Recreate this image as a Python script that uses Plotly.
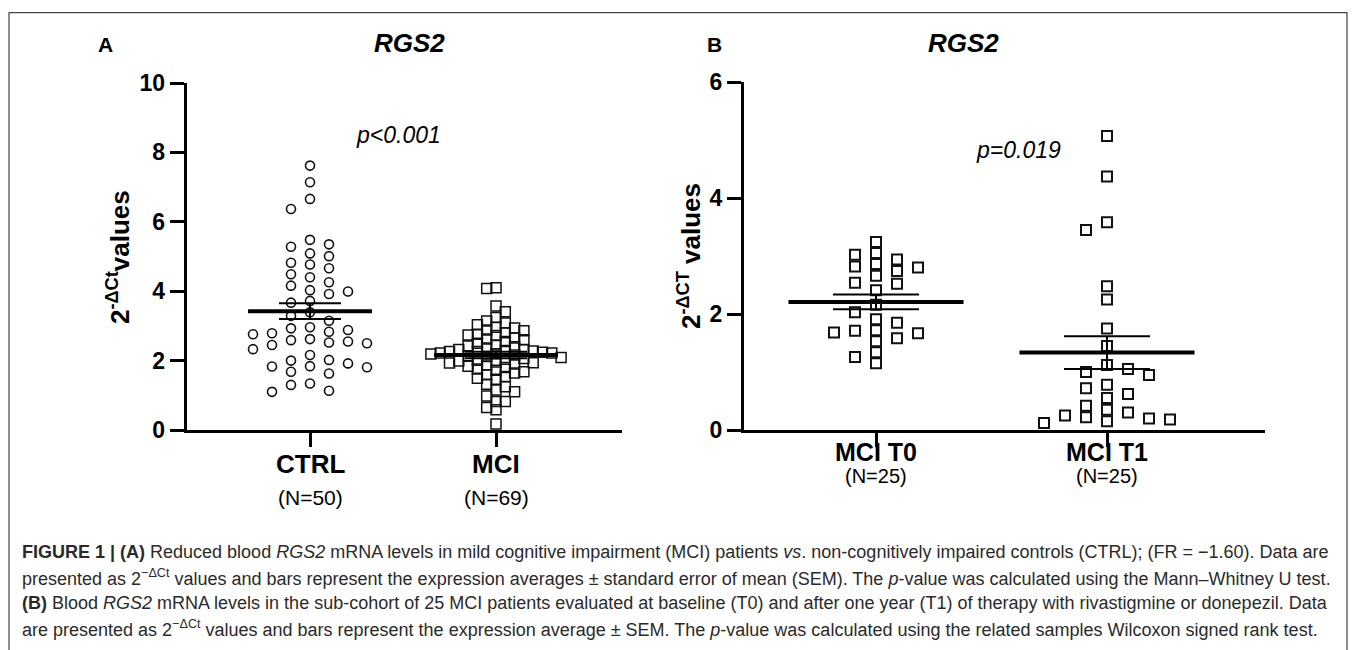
import numpy as np
import plotly.graph_objects as go

W, H = 1355, 650

# ---------------- data ----------------
ctrl = [2.59, 1.92,
        4.16, 2.93, 2.50, 1.83, 1.13,
        6.66, 5.35, 5.01, 4.66, 4.26, 3.92, 3.29, 2.83, 2.52, 2.02, 1.63,
        7.62, 7.14, 6.37, 5.28, 4.82, 4.49, 4.03, 3.72, 3.39, 2.76, 2.33, 1.84, 1.30,
        5.48, 5.09, 4.77, 4.40, 3.99, 3.67, 3.15, 2.79, 2.45, 2.00, 1.68, 1.34,
        2.88, 2.55, 1.10,
        2.96, 2.62, 2.16, 1.81]
mci = [4.10, 4.08, 3.57, 3.41, 3.24, 3.14, 3.08, 3.03, 2.96, 2.94,
       2.88, 2.86, 2.80, 2.76, 2.74, 2.72, 2.65, 2.62, 2.60, 2.55,
       2.50, 2.45, 2.42, 2.40, 2.36, 2.32, 2.28, 2.26, 2.22, 2.20,
       2.32, 2.29, 2.26, 2.24, 2.22, 2.19, 2.16, 2.14, 2.12, 2.09,
       2.06, 2.04, 2.01, 1.99, 1.96, 1.94, 1.93, 1.90, 1.87, 1.84,
       1.80, 1.76, 1.72, 1.68, 1.64, 1.59, 1.54, 1.49, 1.46,
       1.25, 1.15, 1.10, 0.98, 0.82, 0.82, 0.65, 0.58, 0.17, 1.32]
t0 = [3.02, 1.58,
      2.82, 2.52, 2.03, 1.85, 1.67, 1.15,
      3.24, 2.86, 2.66, 2.41, 1.91, 1.72, 1.53, 1.34,
      2.94, 2.74, 2.54, 2.16, 1.68, 1.26,
      3.05, 2.80, 1.71]
t1 = [5.07, 4.37, 3.58, 3.45, 2.48, 2.25, 1.75, 1.45, 1.05, 1.12,
      1.00, 0.95, 0.78, 0.72, 0.62, 0.55, 0.42, 0.35, 0.30, 0.25,
      0.22, 0.20, 0.18, 0.15, 0.12]

cats_a = ["CTRL", "MCI"]
ns_a = ["(N=50)", "(N=69)"]
cats_b = ["MCI T0", "MCI T1"]
ns_b = ["(N=25)", "(N=25)"]
yticks_a = [0, 2, 4, 6, 8, 10]
yticks_b = [0, 2, 4, 6]
gene = "RGS2"
p_a = "p<0.001"
p_b = "p=0.019"

caption = [
    "<b>FIGURE 1 | (A)</b> Reduced blood <i>RGS2</i> mRNA levels in mild cognitive impairment (MCI) patients <i>vs</i>. non-cognitively impaired controls (CTRL); (FR = \u22121.60). Data are",
    "presented as 2<sup>\u2212\u0394Ct</sup> values and bars represent the expression averages \u00b1 standard error of mean (SEM). The <i>p</i>-value was calculated using the Mann\u2013Whitney U test.",
    "<b>(B)</b> Blood <i>RGS2</i> mRNA levels in the sub-cohort of 25 MCI patients evaluated at baseline (T0) and after one year (T1) of therapy with rivastigmine or donepezil. Data",
    "are presented as 2<sup>\u2212\u0394Ct</sup> values and bars represent the expression average \u00b1 SEM. The <i>p</i>-value was calculated using the related samples Wilcoxon signed rank test.",
]

# ---------------- layout geometry (pixels) ----------------
A = dict(ax0=186.7, ax1=622, c1=310, c2=496, y0=430, ytop=83, ymax=10)
B = dict(ax0=744, ax1=1265, c1=876, c2=1107, y0=430, ytop=82, ymax=6)
for P in (A, B):
    P["pxx"] = P["c2"] - P["c1"]
    P["r0"] = 1 - (P["c1"] - P["ax0"]) / P["pxx"]
    P["r1"] = 2 + (P["ax1"] - P["c2"]) / P["pxx"]
    P["pxy"] = (P["y0"] - P["ytop"]) / P["ymax"]


def swarm(vals, pxy, pxx, step, gap):
    vals = np.asarray(vals, float)
    cols = {}
    left = right = 0
    off = np.zeros(len(vals))
    for i in np.argsort(-vals, kind="stable"):
        y = vals[i] * pxy
        cand = [0]
        for m in range(1, 60):
            cand += [-m, m] if left <= right else [m, -m]
        for k in cand:
            if all(abs(y - yy) >= gap for yy in cols.get(k, [])):
                break
        cols.setdefault(k, []).append(y)
        if k < 0:
            left += 1
        elif k > 0:
            right += 1
        off[i] = k * step / pxx
    return off


def mean_sem(v):
    v = np.asarray(v, float)
    return v.mean(), v.std(ddof=1) / np.sqrt(len(v))


fig = go.Figure()

groups = [
    ("x", "y", A, 1, ctrl, "circle-open", 9, 1.6, 19, 10.5, 0.333, 31),
    ("x", "y", A, 2, mci, "square-open", 10, 1.5, 9.3, 8.0, 0.333, 31),
    ("x2", "y2", B, 1, t0, "square-open", 10, 2.0, 21, 11, 0.379, 43),
    ("x2", "y2", B, 2, t1, "square-open", 10, 2.0, 21, 11, 0.379, 43),
]
for xa, ya, P, c, vals, sym, size, lw, step, gap, mhw, cap in groups:
    off = swarm(vals, P["pxy"], P["pxx"], step, gap)
    fig.add_trace(go.Scatter(
        x=c + off, y=vals, xaxis=xa, yaxis=ya, mode="markers",
        marker=dict(symbol=sym, size=size, color="#111", line=dict(width=lw, color="#111")),
        cliponaxis=False, showlegend=False, hoverinfo="y"))
    m, s = mean_sem(vals)
    fig.add_trace(go.Scatter(
        x=[c - mhw, c + mhw], y=[m, m], xaxis=xa, yaxis=ya, mode="lines",
        line=dict(color="black", width=4), showlegend=False, hoverinfo="skip"))
    fig.add_trace(go.Scatter(
        x=[c], y=[m], xaxis=xa, yaxis=ya, mode="markers",
        marker=dict(size=1, color="rgba(0,0,0,0)"),
        error_y=dict(type="data", array=[s], visible=True, color="black",
                     thickness=2, width=cap),
        showlegend=False, hoverinfo="skip"))

axis_common = dict(showline=True, linecolor="black", linewidth=3, ticks="outside",
                   ticklen=14, tickwidth=3, tickcolor="black", showgrid=False,
                   zeroline=False, fixedrange=True, automargin=False)
tickfont = dict(family="Liberation Sans, Arial", size=23, color="black", weight="bold")

layout = dict(
    template="none",
    width=W, height=H, margin=dict(l=0, r=0, t=0, b=0, pad=0, autoexpand=False),
    paper_bgcolor="white", plot_bgcolor="white", showlegend=False,
    xaxis=dict(domain=[A["ax0"] / W, A["ax1"] / W], range=[A["r0"], A["r1"]],
               tickvals=[1, 2], showticklabels=False, anchor="y", **axis_common),
    yaxis=dict(domain=[1 - A["y0"] / H, 1 - A["ytop"] / H], range=[0, A["ymax"]],
               tickvals=yticks_a, tickfont=tickfont, anchor="x", **axis_common),
    xaxis2=dict(domain=[B["ax0"] / W, B["ax1"] / W], range=[B["r0"], B["r1"]],
                tickvals=[1, 2], showticklabels=False, anchor="y2", **axis_common),
    yaxis2=dict(domain=[1 - B["y0"] / H, 1 - B["ytop"] / H], range=[0, B["ymax"]],
                tickvals=yticks_b, tickfont=tickfont, anchor="x2", **axis_common),
)
fig.update_layout(**layout)

ann = []
bold = dict(family="Liberation Sans, Arial", color="black", weight="bold")
reg = dict(family="Liberation Sans, Arial", color="black")


def py(p):
    return 1 - p / H


def lab(x, y, text, font, xref="paper", **kw):
    d = dict(x=x if xref != "paper" else x / W, xref=xref, y=py(y), yref="paper",
             text=text, showarrow=False, font=font, xanchor="center", yanchor="middle")
    d.update(kw)
    return d


for i, (cat, n) in enumerate(zip(cats_a, ns_a)):
    ann.append(lab(i + 1, 464, cat, dict(size=26, **bold), xref="x"))
    ann.append(lab(i + 1, 497, n, dict(size=21, **reg), xref="x"))
for i, (cat, n) in enumerate(zip(cats_b, ns_b)):
    ann.append(lab(i + 1, 452, cat, dict(size=25, **bold), xref="x2"))
    ann.append(lab(i + 1, 476, n, dict(size=20, **reg), xref="x2"))

ann += [
    lab(105, 44, "A", dict(size=21, **bold)),
    lab(714, 44, "B", dict(size=21, **bold)),
    lab(409, 43, "<i>" + gene + "</i>", dict(size=26, **bold)),
    lab(963, 43, "<i>" + gene + "</i>", dict(size=26, **bold)),
    lab(398, 135, "<i>" + p_a + "</i>", dict(size=23, **reg)),
    lab(1018, 150, "<i>" + p_b + "</i>", dict(size=23, **reg)),
    lab(118, 257, "2<sup>-\u0394Ct</sup>values", dict(size=26, **bold), textangle=-90),
    lab(689, 256, "2<sup>-\u0394CT</sup> values", dict(size=26, **bold), textangle=-90),
]

cap_font = dict(family="Liberation Sans Narrow, Arial Narrow, Liberation Sans", size=18, color="#2a2a2a")
for line, yy in zip(caption, [552, 577, 603, 628]):
    ann.append(lab(20, yy, line, cap_font, xanchor="left"))

fig.update_layout(annotations=ann)
fig.add_shape(type="rect", xref="paper", yref="paper", x0=9 / W, x1=1347 / W,
              y0=-0.05, y1=py(12.7), line=dict(color="#444", width=1.2))

fig.write_html("out.html", config={"displayModeBar": False},
               post_script="document.body.style.margin='0';document.body.style.overflow='hidden';")
